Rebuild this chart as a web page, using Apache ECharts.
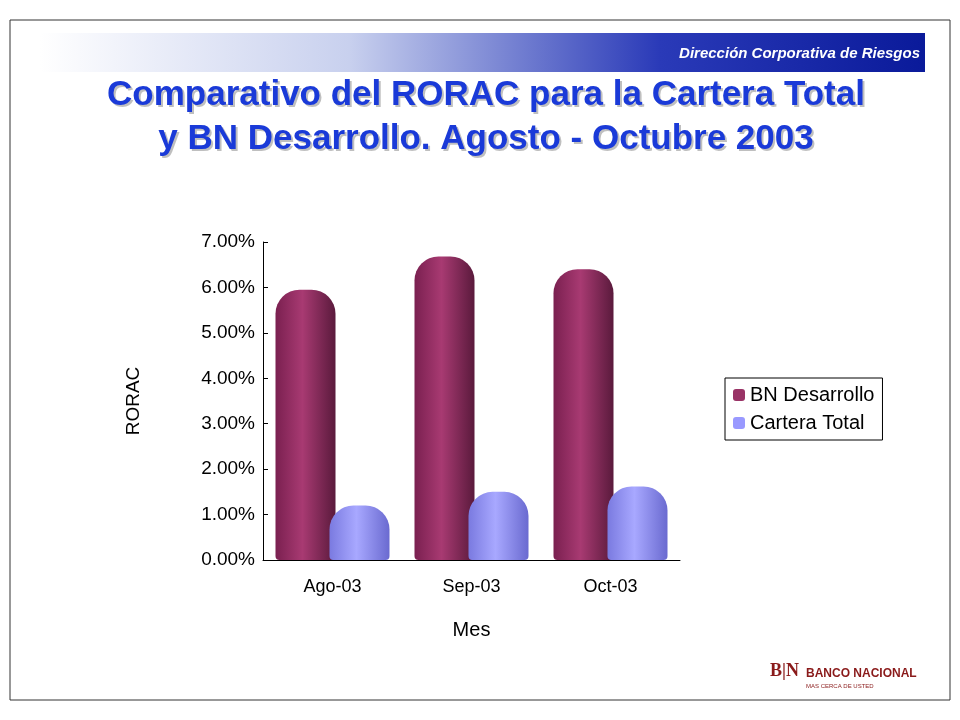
<!DOCTYPE html>
<html>
<head>
<meta charset="utf-8">
<script src="https://cdn.jsdelivr.net/npm/echarts@6/dist/echarts.min.js"></script>
<style>body{margin:0;background:#fff}#main{width:960px;height:720px}</style>
</head>
<body>
<div id="main"></div>
<script>
var meses = ['Ago-03', 'Sep-03', 'Oct-03'];
var bnDesarrollo = [5.95, 6.68, 6.40];
var carteraTotal = [1.20, 1.50, 1.62];
var yTicks = [0, 1, 2, 3, 4, 5, 6, 7];
var titulo = 'Comparativo del RORAC para la Cartera Total\ny BN Desarrollo. Agosto - Octubre 2003';

function cyl(c1, c2, c3) {
	return new echarts.graphic.LinearGradient(0, 0, 1, 0, [
		{offset: 0, color: c1}, {offset: 0.45, color: c2}, {offset: 1, color: c3}
	]);
}

var chart = echarts.init(document.getElementById('main'));
chart.setOption({
	animation: false,
	textStyle: {fontFamily: 'Liberation Sans, Arial'},
	graphic: [
		{type: 'rect', shape: {x: 10, y: 20, width: 940, height: 680}, style: {fill: 'none', stroke: '#333', lineWidth: 1}},
		{type: 'rect', shape: {x: 40, y: 33, width: 885, height: 39},
			style: {fill: new echarts.graphic.LinearGradient(0, 0, 1, 0, [
				{offset: 0, color: '#ffffff'}, {offset: 0.35, color: '#c8d0ee'}, {offset: 0.7, color: '#2a3ab8'}, {offset: 1, color: '#0a1a9a'}])}},
		{type: 'text', right: 40, top: 46, style: {text: 'Dirección Corporativa de Riesgos', fill: '#fff', font: 'italic bold 15px Liberation Sans'}},
		{type: 'text', x: 488, y: 75, style: {text: titulo,
			fill: 'rgba(0,0,0,0.25)', font: 'bold 35px Liberation Sans', align: 'center', lineHeight: 44}},
		{type: 'text', x: 486, y: 73, style: {text: titulo,
			fill: '#1a3ad8', font: 'bold 35px Liberation Sans', align: 'center', lineHeight: 44}},
		{type: 'text', left: 770, top: 662, style: {text: 'B|N', fill: '#8a1a1a', font: 'bold 18px Liberation Serif'}},
		{type: 'text', left: 806, top: 668, style: {text: 'BANCO NACIONAL', fill: '#8a1a1a', font: 'bold 12px Liberation Sans'}},
		{type: 'text', left: 806, top: 683, style: {text: 'MAS CERCA DE USTED', fill: '#8a1a1a', font: '6px Liberation Sans'}}
	],
	legend: {
		orient: 'vertical', left: 725, top: 378, padding: [7, 8], itemGap: 8,
		borderColor: '#000', borderWidth: 1, itemWidth: 12, itemHeight: 12,
		textStyle: {fontSize: 20, color: '#000'},
		data: [{name: 'BN Desarrollo', itemStyle: {color: '#993366'}}, {name: 'Cartera Total', itemStyle: {color: '#9999ff'}}]
	},
	grid: {left: 263, right: 280, top: 242, bottom: 160},
	xAxis: {
		type: 'category', data: meses, name: 'Mes', nameLocation: 'middle', nameGap: 60,
		nameTextStyle: {fontSize: 20, color: '#000'},
		axisLine: {lineStyle: {color: '#000'}}, axisTick: {show: false},
		axisLabel: {fontSize: 18, color: '#000', margin: 18}
	},
	yAxis: {
		type: 'value', min: 0, max: 7, interval: 1, name: 'RORAC', nameLocation: 'middle', nameGap: 120,
		nameTextStyle: {fontSize: 19, color: '#000'},
		axisLine: {show: true, lineStyle: {color: '#000'}}, axisTick: {show: true, inside: true},
		splitLine: {show: false},
		axisLabel: {fontSize: 19, color: '#000', formatter: function (v) { return yTicks.indexOf(v) >= 0 ? v.toFixed(2) + '%' : ''; }}
	},
	series: [
		{name: 'BN Desarrollo', type: 'bar', data: bnDesarrollo, barWidth: 60, barGap: '-10%',
			itemStyle: {color: cyl('#7a2050', '#a83a72', '#5a1a3c'), borderRadius: [24, 24, 4, 4]}},
		{name: 'Cartera Total', type: 'bar', data: carteraTotal, barWidth: 60,
			itemStyle: {color: cyl('#7a7ae0', '#a8a8ff', '#6a6ad0'), borderRadius: [24, 24, 4, 4]}}
	]
});
</script>
</body>
</html>
